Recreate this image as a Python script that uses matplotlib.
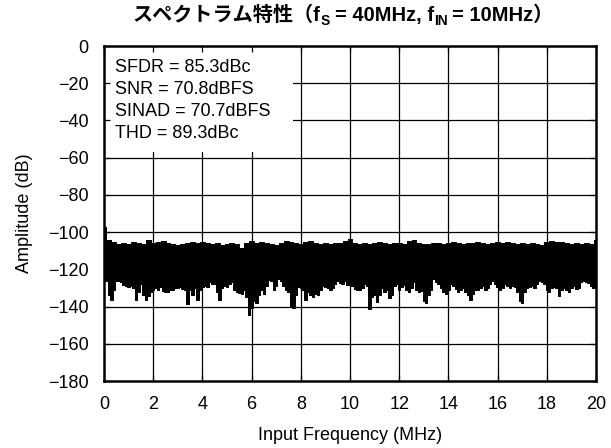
import numpy as np
import matplotlib
matplotlib.use("Agg")
import matplotlib.pyplot as plt
from matplotlib.patches import Rectangle

plt.rcParams['font.family'] = ['Liberation Sans', 'Noto Sans CJK JP', 'DejaVu Sans']

# ---------------- data ----------------
title_parts = [("スペクトラム特性（f", False), ("S", True), ("= 40MHz, f", False),
               ("IN", True), ("= 10MHz）", False)]
x_label = "Input Frequency (MHz)"
y_label = "Amplitude (dB)"
x_ticks = [0, 2, 4, 6, 8, 10, 12, 14, 16, 18, 20]
y_ticks = [0, -20, -40, -60, -80, -100, -120, -140, -160, -180]
stats_lines = ["SFDR = 85.3dBc", "SNR = 70.8dBFS", "SINAD = 70.7dBFS", "THD = 89.3dBc"]

# lower envelope of the noise floor, every 0.1 MHz from 0 to 20 MHz
freq_lower = np.round(np.arange(201) * 0.1, 1)
lower_db = [
    -121, -126, -134, -136.5, -131, -126, -126, -127, -128.5, -129,
    -129.5, -129, -130, -136.5, -132, -128, -134, -136.5, -134.5, -132,
    -131, -130, -131, -129.5, -131.5, -132, -132, -131, -131, -130,
    -130, -129.5, -130.5, -131, -138.5, -131, -134, -130, -136.5, -131,
    -129.5, -129, -129.5, -127, -128, -128, -132, -136.5, -130, -129,
    -129.5, -128, -127, -131, -132, -132.5, -133, -131, -135, -144.5,
    -141, -137, -138, -134, -131, -133, -129, -125.5, -126.5, -131,
    -129, -125, -126, -129, -131, -132, -139.5, -141, -134, -129.5,
    -130, -131, -136.5, -132, -134, -135, -133, -134, -131, -129,
    -129.5, -130, -131, -130, -128, -126, -127.5, -128, -126, -128.5,
    -128.5, -129, -130.5, -131, -131, -130, -128, -129, -141.5, -135,
    -134, -137.5, -134, -130, -132, -131, -135.5, -134, -129, -128,
    -131, -129.5, -128.5, -131, -132, -130, -127, -131, -132, -131.5,
    -137, -138, -134, -131, -125, -127, -128, -130, -132, -133,
    -131, -128, -129, -130.5, -132, -131, -130, -132, -134, -136.5,
    -133, -131, -131, -130, -129, -131, -130, -128, -126, -128,
    -129.5, -131, -130, -128, -129, -130, -129, -129.5, -132, -137,
    -138, -132, -130, -129.5, -129, -130, -128, -126, -127, -128,
    -131, -132, -130, -129.5, -130, -134.5, -131, -130, -131, -132,
    -130, -129, -130.5, -130, -127, -126, -127, -127.5, -129, -130,
    -129]

# upper envelope of the noise floor, every 0.2 MHz from 0 to 20 MHz
freq_upper = np.round(np.arange(101) * 0.2, 1)
upper_db = [
    -97, -104.5, -105.5, -106.5, -106, -106.5, -105.5, -106, -106.5, -104.5,
    -106, -105.5, -105, -106, -106.5, -107, -106.5, -106, -105.5, -106,
    -105.5, -106, -106.5, -106, -107, -106.5, -106, -106.5, -108.5, -106,
    -105, -106, -105.5, -106, -106.5, -107, -106, -105, -105.5, -106,
    -106.5, -105.5, -105, -106, -106.5, -106, -106.5, -106, -106, -105,
    -103.5, -106, -106.5, -106, -106.5, -106, -105.5, -106, -106.5, -106,
    -106, -106.5, -105, -104.5, -106, -106.5, -106.5, -106, -106, -106.5,
    -106, -105.5, -106, -106.5, -106, -106, -105.5, -106, -106.5, -106,
    -105.5, -106, -105.5, -106, -106.5, -106, -106.5, -106, -106.5, -107,
    -105.5, -105, -105.5, -105.5, -106, -106.5, -106, -106.5, -106, -106.5,
    -104]
band_mid = -118

# ---------------- figure ----------------
W, H = 611, 448
fig = plt.figure(figsize=(W / 100, H / 100), dpi=100)
ax = fig.add_axes([104 / W, 1 - 381 / H, (596 - 104) / W, (381 - 46) / H])

ax.set_xlim(0, 20)
ax.set_ylim(-180, 0)

# grid drawn manually below the text box
for xv in x_ticks[1:-1]:
    ax.axvline(xv, color='black', lw=0.9, zorder=0.5)
for yv in y_ticks[1:-1]:
    ax.axhline(yv, color='black', lw=0.9, zorder=0.5)

# white box behind the statistics
ax.add_patch(Rectangle((0, -57), 7.7, 57, facecolor='white', edgecolor='none', zorder=1))

# noise floor band
ax.fill_between(freq_upper, upper_db, band_mid, step='mid', color='black', lw=0.7, zorder=2)
ax.fill_between(freq_lower, lower_db, band_mid, step='mid', color='black', lw=0.7, zorder=2)

ax.set_xticks(x_ticks)
ax.set_yticks(y_ticks)
ax.set_xticklabels([str(v) for v in x_ticks])
ax.set_yticklabels([str(v).replace('-', '\u2212') for v in y_ticks])
ax.tick_params(direction='in', length=4, width=0.9, labelsize=13, top=True, right=True,
               colors='black')
ax.tick_params(axis='y', pad=11)
ax.tick_params(axis='x', pad=11)
for s in ax.spines.values():
    s.set_linewidth(1.8)
    s.set_zorder(3)

ax.set_xlabel(x_label, fontsize=13, labelpad=10)
ax.set_ylabel(y_label, fontsize=13, labelpad=11)

for i, line in enumerate(stats_lines):
    ax.text(11 / 492 * 1.0, 1 - (21 + i * 22) / 335, line, transform=ax.transAxes,
            fontsize=13, ha='left', va='center', zorder=4)

# ---------------- title with subscripts ----------------
renderer = fig.canvas.get_renderer()
main_size = 14.5
sub_size = 10
base_y = 1 - 21 / H
objs = []
for txt, is_sub in title_parts:
    t = fig.text(0, base_y - (4 / H if is_sub else 0), txt,
                 fontsize=sub_size if is_sub else main_size, fontweight='bold',
                 ha='left', va='baseline')
    objs.append(t)
widths = [o.get_window_extent(renderer).width for o in objs]
space = 4.5
gaps = [0, 0, space, 0, space]
total = sum(widths) + sum(gaps)
x = 343 - total / 2
for o, w, g in zip(objs, widths, gaps):
    x += g
    o.set_x(x / W)
    x += w

fig.savefig("out.png", dpi=100)
